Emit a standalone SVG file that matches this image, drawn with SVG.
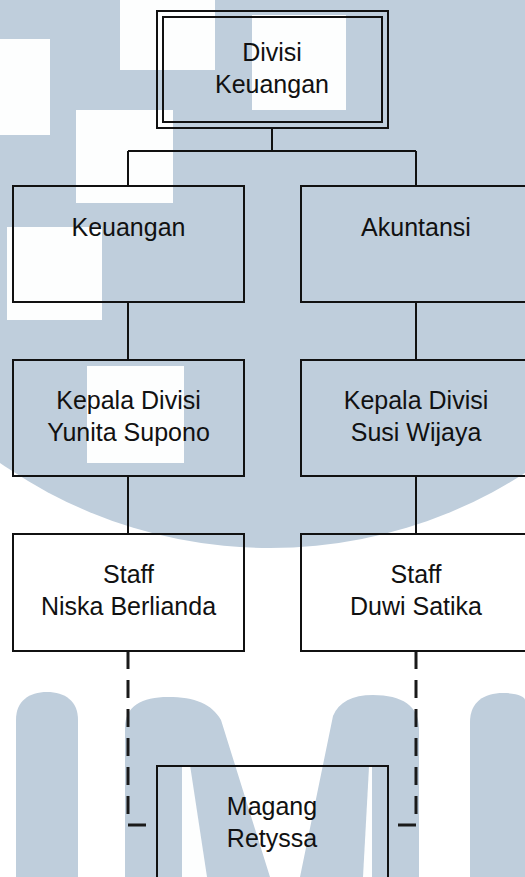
<svg xmlns="http://www.w3.org/2000/svg" width="525" height="877" viewBox="0 0 525 877">
  <style>
    .box { fill: none; stroke: #111; stroke-width: 2; }
    .lbl { font-family: "Liberation Sans", Arial, sans-serif; font-size: 25px; fill: #111; text-anchor: middle; }
    .wm { fill: #bfcedc; }
    .sq { fill: #fdfefe; }
    .conn { fill: none; stroke: #111; stroke-width: 2; }
    .dash { fill: none; stroke: #1a1a1a; stroke-width: 3; stroke-dasharray: 18 11; }
  </style>
  <g id="watermark">
    <rect x="0" y="0" width="525" height="877" fill="#ffffff"/>
    <circle class="wm" cx="270" cy="77" r="471"/>
    <rect class="sq" x="120" y="0" width="95" height="70"/>
    <rect class="sq" x="252" y="15" width="94" height="95"/>
    <rect class="sq" x="0" y="39" width="50" height="96"/>
    <rect class="sq" x="76" y="110" width="97" height="93"/>
    <rect class="sq" x="7" y="227" width="95" height="93"/>
    <rect class="sq" x="87" y="366" width="97" height="97"/>
    <path class="wm" d="M16,877 L16,720 C16,701 29,692 47,692 C65,692 78,701 78,720 L78,877 Z"/>
    <path class="wm" d="M125,877 L125,728 C125,706 142,697 168,697 C195,697 212,704 221,720 L270,877 L300,877 L333,716 C339,702 352,695 373,695 C402,695 419,706 419,728 L419,877 Z"/>
    <path fill="#fdfefe" d="M182,765 L190,765 L207,877 L182,877 Z"/>
    <path fill="#fdfefe" d="M369,767 L372,767 L372,877 L363,877 Z"/>
    <path class="wm" d="M470,877 L470,722 C470,702 484,693 503,693 C518,693 525,697 525,700 L525,877 Z"/>
  </g>
  <g id="connectors">
    <path class="conn" d="M272,128 V151 M128,151 H416 M128,151 V186 M416,151 V186"/>
    <path class="conn" d="M128,302 V360 M128,476 V534 M416,302 V360 M416,476 V534"/>
    <path class="dash" d="M128,651 V825 H147"/>
    <path class="dash" d="M416,651 V825 H397"/>
  </g>
  <g id="node-divisi-keuangan">
    <rect class="box" x="157" y="11" width="231" height="117"/>
    <rect class="box" x="163" y="17" width="219" height="105"/>
    <text class="lbl" x="272" y="61">Divisi</text>
    <text class="lbl" x="272" y="93">Keuangan</text>
  </g>
  <g id="node-keuangan">
    <rect class="box" x="13" y="186" width="231" height="116"/>
    <text class="lbl" x="128.5" y="236">Keuangan</text>
  </g>
  <g id="node-akuntansi">
    <rect class="box" x="301" y="186" width="231" height="116"/>
    <text class="lbl" x="416" y="236">Akuntansi</text>
  </g>
  <g id="node-kepala-yunita">
    <rect class="box" x="13" y="360" width="231" height="116"/>
    <text class="lbl" x="128.5" y="409">Kepala Divisi</text>
    <text class="lbl" x="128.5" y="441">Yunita Supono</text>
  </g>
  <g id="node-kepala-susi">
    <rect class="box" x="301" y="360" width="231" height="116"/>
    <text class="lbl" x="416" y="409">Kepala Divisi</text>
    <text class="lbl" x="416" y="441">Susi Wijaya</text>
  </g>
  <g id="node-staff-niska">
    <rect class="box" x="13" y="534" width="231" height="117"/>
    <text class="lbl" x="128.5" y="583">Staff</text>
    <text class="lbl" x="128.5" y="615">Niska Berlianda</text>
  </g>
  <g id="node-staff-duwi">
    <rect class="box" x="301" y="534" width="231" height="117"/>
    <text class="lbl" x="416" y="583">Staff</text>
    <text class="lbl" x="416" y="615">Duwi Satika</text>
  </g>
  <g id="node-magang">
    <rect class="box" x="157" y="766" width="231" height="130"/>
    <text class="lbl" x="272" y="815">Magang</text>
    <text class="lbl" x="272" y="847">Retyssa</text>
  </g>
</svg>
